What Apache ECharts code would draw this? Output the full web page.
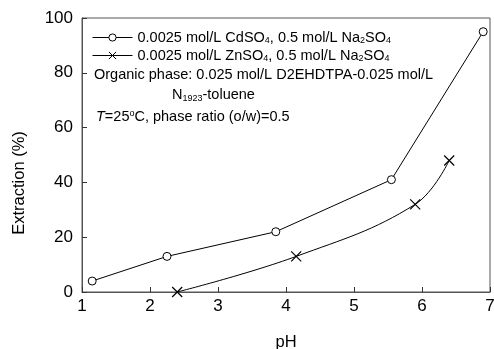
<!DOCTYPE html>
<html>
<head>
<meta charset="utf-8">
<script src="https://cdn.jsdelivr.net/npm/echarts@6/dist/echarts.min.js"></script>
<style>
  html, body { margin: 0; padding: 0; background: #fff; }
  #chart { width: 494px; height: 349px; }
</style>
</head>
<body>
<div id="chart"></div>
<script>
// 数据
const cdPH = [1.15, 2.25, 3.85, 5.55, 6.9];
const cdExtraction = [4, 13, 22, 41, 95];
const znPH = [2.4, 4.15, 5.9, 6.4];
const znExtraction = [0, 13, 32, 48];
const xTicks = [1, 2, 3, 4, 5, 6, 7];
const yTicks = [0, 20, 40, 60, 80, 100];

const font = 'Liberation Sans, Arial, sans-serif';
const crossPath = 'path://M0,0L10,10M10,0L0,10';
const subRich = { fontSize: 9, lineHeight: 9, verticalAlign: 'bottom', fontFamily: font, color: '#000', fill: '#000' };

const chart = echarts.init(document.getElementById('chart'));

const option = {
  animation: false,
  backgroundColor: '#fff',
  textStyle: { fontFamily: font, color: '#000' },
  grid: {
    left: 82, right: 4, top: 18, bottom: 57,
    outerBoundsMode: 'none',
    show: true, borderColor: '#555', borderWidth: 1
  },
  legend: {
    orient: 'vertical',
    left: 92, top: 30, padding: 0,
    itemWidth: 40, itemHeight: 9, itemGap: 3,
    data: ['Cd', 'Zn'],
    lineStyle: { width: 1 },
    itemStyle: { borderWidth: 1 },
    textStyle: {
      fontFamily: font, fontSize: 14.5, color: '#000', lineHeight: 15,
      rich: { s: subRich }
    },
    formatter: function (name) {
      if (name === 'Cd') return '0.0025 mol/L CdSO{s|4}, 0.5 mol/L Na{s|2}SO{s|4}';
      return '0.0025 mol/L ZnSO{s|4}, 0.5 mol/L Na{s|2}SO{s|4}';
    }
  },
  xAxis: {
    type: 'value',
    min: xTicks[0], max: xTicks[xTicks.length - 1], interval: 1,
    name: 'pH', nameLocation: 'middle', nameGap: 42,
    nameTextStyle: { fontSize: 16.5, fontFamily: font, color: '#000' },
    axisLine: { lineStyle: { color: '#555' } },
    axisTick: { inside: true, length: 5, lineStyle: { color: '#333' } },
    axisLabel: { fontSize: 17, fontFamily: font, color: '#000', margin: 6 },
    splitLine: { show: false }
  },
  yAxis: {
    type: 'value',
    min: yTicks[0], max: yTicks[yTicks.length - 1], interval: 20,
    name: 'Extraction (%)', nameLocation: 'middle', nameGap: 54,
    nameTextStyle: { fontSize: 16.5, fontFamily: font, color: '#000', padding: [0, 56, 0, 0] },
    axisLine: { show: true, lineStyle: { color: '#555' } },
    axisTick: { show: true, inside: true, length: 5, lineStyle: { color: '#333' } },
    axisLabel: { fontSize: 17, fontFamily: font, color: '#000', margin: 9 },
    splitLine: { show: false }
  },
  series: [
    {
      name: 'Cd',
      type: 'line',
      data: cdPH.map((x, i) => [x, cdExtraction[i]]),
      symbol: 'circle',
      symbolSize: 8,
      lineStyle: { color: '#000', width: 1 },
      itemStyle: { color: '#fff', borderColor: '#000', borderWidth: 1 }
    },
    {
      name: 'Zn',
      type: 'line',
      data: znPH.map((x, i) => [x, znExtraction[i]]),
      smooth: 0.4,
      symbol: crossPath,
      symbolSize: 10,
      lineStyle: { color: '#000', width: 1 },
      itemStyle: { color: '#000', borderColor: '#000', borderWidth: 1.2 }
    }
  ],
  graphic: [
    {
      type: 'text', left: 94, top: 67,
      style: { text: 'Organic phase: 0.025 mol/L D2EHDTPA-0.025 mol/L', font: '14.5px ' + font, fill: '#000' }
    },
    {
      type: 'text', left: 172, top: 87,
      style: {
        text: 'N{s|1923}-toluene', font: '14.5px ' + font, fill: '#000', lineHeight: 16,
        rich: { s: subRich }
      }
    },
    {
      type: 'text', left: 96, top: 109,
      style: {
        text: '{i|T}=25{p|o}C, phase ratio (o/w)=0.5', font: '14.5px ' + font, fill: '#000', lineHeight: 16,
        rich: {
          i: { fontStyle: 'italic', fontSize: 14.5, fontFamily: font, fill: '#000' },
          p: { fontSize: 9, lineHeight: 9, verticalAlign: 'top', fontFamily: font, fill: '#000' }
        }
      }
    }
  ]
};

chart.setOption(option);
</script>
</body>
</html>
